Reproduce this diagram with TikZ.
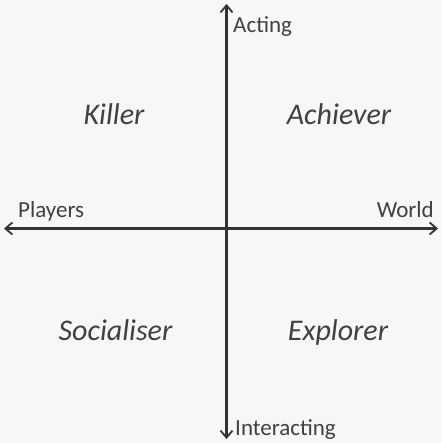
\documentclass[tikz,border=0pt]{standalone}
\usepackage{fontspec}
\setmainfont{Carlito}
\usetikzlibrary{arrows.meta}
\definecolor{bgc}{HTML}{F7F7F7}
\definecolor{axc}{HTML}{333333}
\definecolor{txc}{HTML}{404040}
\tikzset{
  axis/.style={draw=axc, line width=2.2pt, {Straight Barb[length=7pt,width=12pt,line width=1.8pt]}-{Straight Barb[length=7pt,width=12pt,line width=1.8pt]}},
  quad/.style={text=txc, font=\fontsize{30}{34}\selectfont\itshape, anchor=base, inner sep=0pt},
  axlab/.style={text=txc, font=\fontsize{23}{27}\selectfont, inner sep=0pt}
}
\begin{document}
\begin{tikzpicture}[x=1pt,y=-1pt]
\fill[bgc] (0,0) rectangle (441,443);
\useasboundingbox (0,0) rectangle (441,443);
\coordinate (top) at (226.5,4);
\coordinate (bot) at (226.5,439);
\coordinate (lft) at (4,228.5);
\coordinate (rgt) at (438,228.5);
\draw[axis] (top) -- (bot);
\draw[axis] (lft) -- (rgt);
\node[axlab, anchor=base west] (acting) at (233,33) {Acting};
\node[axlab, anchor=base west] (interacting) at (235,435) {Interacting};
\node[axlab, anchor=base west] (players) at (18,218) {Players};
\node[axlab, anchor=base east] (world) at (434,218) {World};
\node[quad] (killer) at (114,125) {Killer};
\node[quad] (achiever) at (339,125) {Achiever};
\node[quad] (socialiser) at (115.5,340) {Socialiser};
\node[quad] (explorer) at (338,340) {Explorer};
\end{tikzpicture}
\end{document}
